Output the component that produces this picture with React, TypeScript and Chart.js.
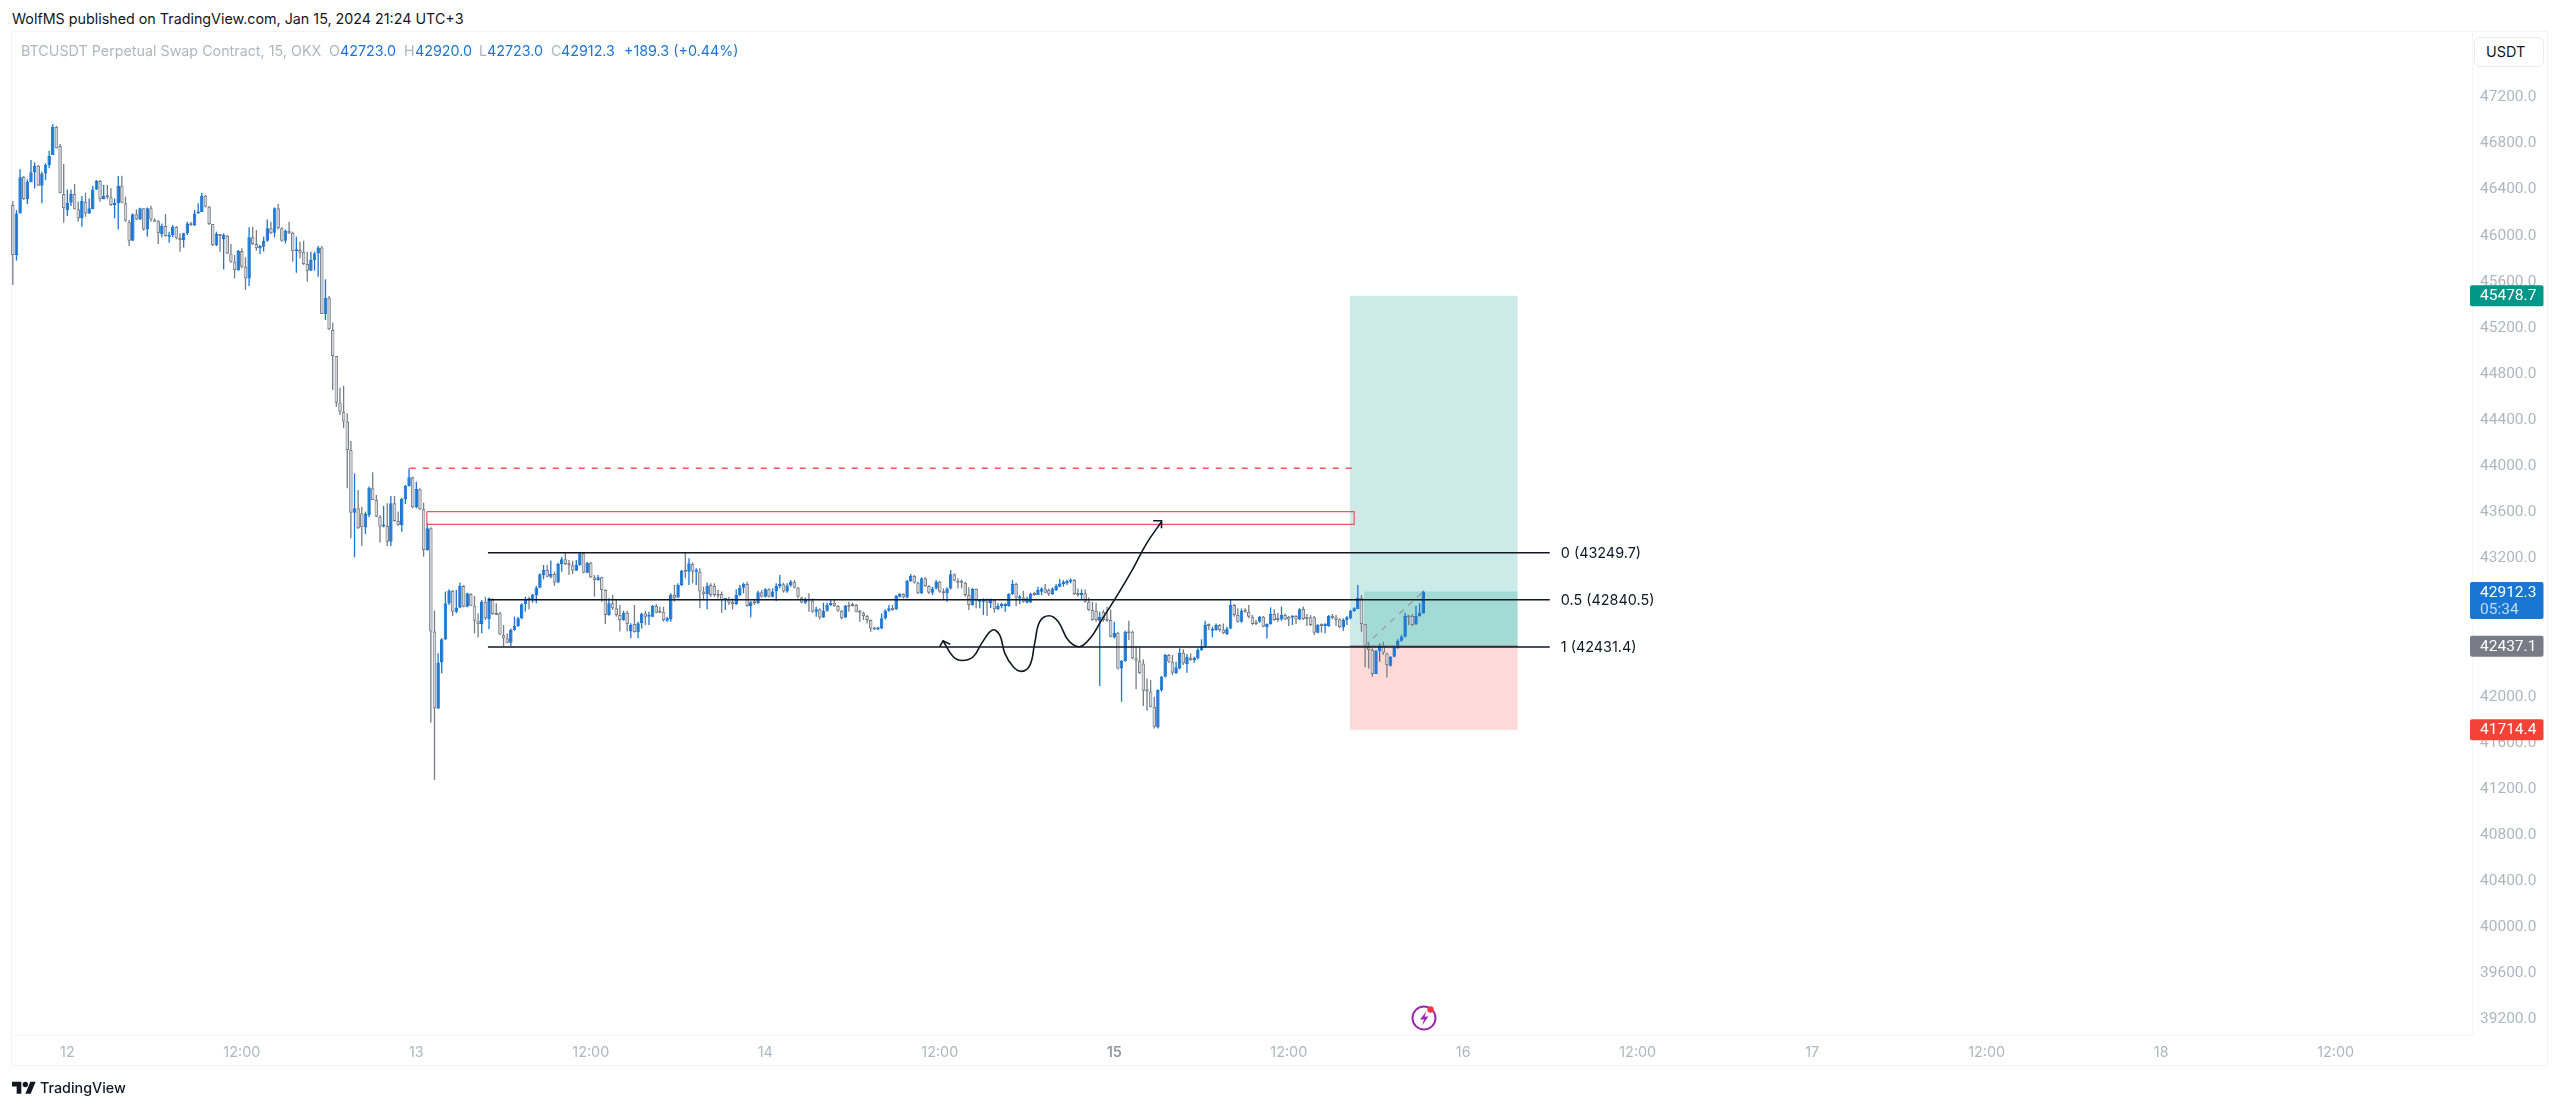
import React, { useEffect, useRef } from "react";
import { Chart, registerables } from "chart.js";

Chart.register(...registerables);

const opens = [
46266,45832,46193,46511,46315,46462,46549,46607,46433,46540,
46613,46699,46945,46777,46361,46222,46286,46361,46228,46150,
46294,46193,46228,46401,46474,46315,46344,46332,46266,46280,
46433,46280,46121,45956,46185,46141,46237,46054,46237,46141,
46124,46014,46083,45991,46005,46078,45976,45962,46020,46101,
46089,46193,46205,46347,46251,46101,45916,46014,45968,46000,
45846,45774,45702,45866,45731,45629,45985,45927,45890,45904,
45956,46063,46025,46237,46063,45956,46043,46025,45864,45875,
45861,45754,45696,45788,45846,45898,45320,45462,45181,44955,
44551,44473,44387,44141,43597,43635,43591,43470,43577,43808,
43707,43562,43476,43481,43345,43678,43525,43490,43716,43828,
43904,43643,43799,43626,43273,43461,42565,41899,42296,42498,
42810,42920,42738,42773,42961,42781,42891,42790,42660,42631,
42825,42674,42845,42718,42724,42536,42507,42469,42579,42614,
42680,42802,42854,42839,42883,42946,43056,43100,43042,43065,
42990,43152,43192,43152,43140,43094,43143,43244,43076,43163,
43036,43013,43036,42926,42709,42810,42767,42709,42666,42729,
42565,42631,42562,42637,42724,42695,42695,42787,42738,42738,
42660,42674,42883,42862,42969,43094,43085,43152,43085,43085,
42912,42891,42969,42961,42891,42891,42839,42845,42825,42805,
42883,42946,42978,42787,42819,42810,42906,42868,42932,42868,
42912,42961,42975,42912,42964,42998,42946,42862,42816,42845,
42833,42738,42758,42688,42746,42796,42816,42787,42746,42688,
42787,42796,42796,42738,42729,42700,42665,42593,42584,42593,
42680,42746,42767,42758,42868,42891,42862,43004,43047,42989,
42897,43027,42960,42903,42940,42998,42911,42897,42940,43062,
43007,42998,42989,42882,42796,42934,42824,42824,42839,42810,
42839,42758,42787,42787,42787,42891,42978,42853,42862,42816,
42819,42891,42882,42911,42940,42926,42891,42926,42955,42978,
42983,42998,43012,42891,42882,42897,42824,42752,42746,42660,
42738,42665,42665,42515,42555,42246,42310,42564,42564,42333,
42312,42289,42052,42045,41913,41734,42058,42174,42362,42304,
42203,42246,42382,42284,42341,42318,42333,42405,42434,42622,
42573,42579,42622,42584,42544,42593,42796,42709,42651,42746,
42738,42694,42651,42651,42694,42602,42631,42717,42680,42671,
42709,42694,42688,42700,42671,42761,42695,42689,42689,42556,
42623,42614,42614,42701,42689,42672,42602,42666,42680,42744,
42761,42859,42631,42434,42405,42197,42397,42440,42376,42269,
42348,42426,42486,42521,42700,42700,42628,42700,42723,
];

const closes = [
45832,46193,46506,46315,46468,46549,46604,46433,46540,46613,
46691,46945,46757,46367,46237,46286,46361,46228,46150,46300,
46193,46237,46401,46474,46315,46344,46332,46266,46280,46433,
46286,46130,45956,46185,46141,46237,46054,46237,46141,46121,
46020,46083,45997,46005,46078,45976,45962,46020,46106,46089,
46193,46208,46347,46251,46101,45916,46014,45997,46005,45846,
45774,45702,45866,45731,45629,45985,45927,45890,45910,45956,
46063,46020,46237,46063,45956,46043,46020,45864,45875,45852,
45754,45696,45788,45846,45898,45320,45462,45187,44955,44551,
44473,44387,44141,43597,43635,43461,43470,43585,43814,43707,
43562,43476,43484,43345,43678,43525,43490,43716,43828,43904,
43643,43802,43626,43273,43461,42565,41899,42296,42498,42810,
42920,42738,42773,42961,42781,42897,42790,42660,42631,42825,
42680,42854,42718,42709,42541,42507,42469,42579,42614,42680,
42802,42845,42839,42883,42946,43062,43100,43042,43065,42990,
43152,43192,43152,43140,43094,43143,43244,43076,43163,43036,
43013,43036,42926,42709,42810,42767,42709,42666,42729,42631,
42622,42562,42637,42718,42695,42701,42787,42729,42729,42666,
42680,42883,42854,42969,43094,43085,43157,43085,43094,42912,
42891,42961,42883,42883,42877,42839,42845,42816,42805,42883,
42946,42978,42787,42819,42810,42906,42868,42932,42868,42912,
42961,42975,42912,42964,42998,42946,42868,42816,42845,42833,
42738,42758,42688,42746,42796,42816,42787,42746,42683,42787,
42781,42787,42738,42729,42700,42665,42593,42584,42593,42680,
42746,42767,42752,42876,42891,42862,43004,43050,42989,42897,
43027,42960,42903,42940,42998,42911,42897,42940,43062,43007,
42989,42989,42882,42796,42934,42833,42833,42839,42816,42839,
42758,42787,42804,42796,42891,42978,42862,42868,42824,42853,
42891,42882,42926,42940,42903,42891,42940,42960,42983,42998,
43004,43007,42891,42882,42897,42824,42752,42665,42665,42694,
42665,42660,42521,42555,42246,42310,42564,42550,42333,42312,
42203,42052,42045,41913,41740,42058,42174,42362,42304,42208,
42255,42382,42289,42347,42318,42333,42405,42434,42622,42613,
42584,42622,42579,42550,42593,42796,42709,42651,42746,42738,
42694,42631,42631,42694,42608,42631,42717,42665,42665,42709,
42671,42671,42700,42671,42758,42675,42675,42623,42556,42623,
42614,42631,42701,42680,42666,42602,42666,42689,42744,42767,
42859,42631,42434,42405,42197,42397,42443,42382,42275,42348,
42426,42486,42521,42700,42689,42622,42700,42729,42912,
];

const highs = [
46300,46222,46575,46517,46488,46656,46636,46613,46555,46627,
46737,46968,46951,46795,46621,46401,46401,46448,46294,46344,
46373,46323,46430,46482,46482,46439,46439,46410,46323,46517,
46520,46338,46135,46193,46228,46242,46237,46245,46260,46150,
46135,46106,46187,46034,46092,46083,46020,46025,46121,46121,
46222,46280,46373,46352,46257,46101,46034,46014,46020,46005,
45927,45832,45875,45890,45812,46072,46078,46049,45918,45991,
46141,46121,46245,46274,46072,46054,46121,46034,45991,45947,
45956,45861,45861,45861,45910,45910,45621,45476,45245,44955,
44681,44698,44460,44219,43938,43794,43649,43606,43823,43947,
43750,43577,43655,43678,43742,43742,43606,43727,43837,43982,
43909,43866,43808,43684,43504,43470,42747,42377,42507,42912,
42932,42926,42926,42990,42969,42903,42897,42874,42724,42839,
42868,42862,42854,42810,42738,42622,42550,42593,42695,42695,
42810,42868,42868,42891,42961,43071,43143,43143,43181,43085,
43163,43215,43250,43186,43181,43186,43256,43256,43172,43172,
43056,43056,43042,42932,42854,42883,42839,42796,42747,42747,
42637,42796,42651,42729,42747,42738,42796,42805,42781,42781,
42695,42897,42969,42984,43100,43250,43201,43163,43114,43114,
42955,42990,42984,42984,42926,42912,42854,42868,42854,42932,
42969,42990,42998,42833,42839,42920,42926,42941,42941,42941,
42984,43056,42990,42984,43013,43013,42955,42868,42862,42897,
42853,42781,42767,42816,42816,42845,42845,42796,42752,42796,
42824,42816,42804,42752,42738,42709,42671,42608,42608,42723,
42758,42796,42796,42882,42897,42897,43012,43064,43056,42998,
43036,43036,42969,42955,43012,43007,42940,42949,43099,43070,
43027,43018,42998,42949,42943,42940,42845,42853,42853,42853,
42845,42810,42816,42810,42897,43012,42989,42882,42920,42868,
42903,42911,42955,42949,42978,42940,42949,42978,43021,43012,
43018,43027,43021,42940,42931,42931,42862,42824,42816,42738,
42752,42781,42758,42651,42564,42318,42573,42660,42573,42434,
42434,42324,42159,42145,42000,42064,42180,42370,42370,42362,
42304,42420,42411,42370,42376,42347,42420,42498,42660,42636,
42608,42636,42631,42636,42608,42845,42804,42767,42767,42767,
42796,42709,42665,42700,42700,42636,42775,42758,42729,42781,
42723,42700,42706,42709,42767,42782,42718,42709,42701,42631,
42637,42637,42709,42718,42709,42680,42680,42701,42753,42776,
42969,42883,42631,42478,42420,42405,42463,42478,42382,42353,
42434,42498,42536,42729,42709,42718,42787,42810,42920,
];

const lows = [
45571,45783,46193,46309,46274,46462,46410,46433,46280,46482,
46584,46699,46757,46367,46112,46170,46257,46228,46121,46078,
46164,46187,46228,46396,46294,46315,46315,46257,46150,46054,
46280,46121,45910,45956,46135,46135,46043,45991,46121,46121,
45927,45985,45991,45939,45985,45968,45861,45898,46005,46083,
46083,46193,46205,46245,46092,45910,45910,45861,45707,45840,
45765,45629,45696,45716,45528,45563,45918,45869,45840,45861,
45947,46014,45985,46054,45947,45933,46014,45774,45678,45803,
45745,45600,45696,45696,45644,45320,45268,45181,44660,44516,
44444,44330,43808,43374,43210,43455,43308,43412,43557,43707,
43557,43337,43470,43308,43308,43519,43484,43432,43672,43823,
43635,43635,43620,43215,43267,41775,41278,41894,42203,42492,
42796,42700,42724,42767,42776,42776,42787,42550,42515,42550,
42666,42585,42712,42709,42536,42440,42463,42440,42573,42608,
42672,42738,42758,42816,42810,42941,43019,43036,43027,42961,
42984,43085,43143,43056,43065,43094,43137,43071,43071,43030,
42868,43007,42825,42631,42703,42753,42695,42565,42660,42565,
42507,42556,42507,42593,42622,42622,42689,42724,42724,42651,
42651,42651,42825,42854,42961,43027,42969,42984,42969,42767,
42839,42758,42868,42868,42854,42729,42753,42796,42758,42796,
42874,42897,42781,42689,42796,42805,42862,42862,42862,42862,
42831,42941,42903,42903,42955,42941,42854,42810,42804,42738,
42729,42694,42671,42683,42738,42787,42781,42738,42671,42683,
42738,42781,42732,42651,42665,42636,42564,42579,42579,42587,
42671,42738,42746,42752,42862,42853,42853,42998,42983,42891,
42891,42955,42891,42882,42931,42903,42845,42824,42931,43001,
42940,42940,42868,42752,42790,42767,42767,42709,42700,42767,
42729,42752,42767,42738,42781,42882,42787,42804,42816,42810,
42810,42874,42882,42882,42897,42874,42882,42917,42949,42955,
42969,42983,42882,42868,42839,42816,42746,42660,42651,42093,
42651,42651,42515,42506,42237,41957,42304,42492,42324,42064,
42197,41919,41879,41908,41725,41725,42044,42168,42295,42188,
42197,42237,42275,42208,42312,42295,42324,42399,42428,42579,
42515,42573,42564,42544,42535,42587,42694,42642,42642,42729,
42680,42622,42622,42642,42602,42506,42625,42660,42651,42660,
42665,42613,42622,42631,42665,42666,42614,42614,42536,42550,
42556,42550,42608,42672,42614,42594,42573,42623,42672,42738,
42761,42564,42255,42246,42174,42197,42304,42362,42168,42261,
42342,42417,42478,42515,42622,42614,42622,42695,42723,
];

const yTickValues = [47200,46800,46400,46000,45600,45200,44800,44400,44000,43600,43200,42000,41600,41200,40800,40400,40000,39600,39200];
const timeTickSlots = [15,63,111,159,207,255,303,351,399,447,495,543,591,639];
const timeTickLabels = ["12","12:00","13","12:00","14","12:00","15","12:00","16","12:00","17","12:00","18","12:00"];

const fibPrices = [43249.7, 42840.5, 42431.4];
const fibLabels = ["0 (43249.7)", "0.5 (42840.5)", "1 (42431.4)"];
const fibSlots = [130.7, 422.8];

const liquidityPrice = 43982;
const liquiditySlots = [109.2, 369];
const zonePrices = [43606, 43496];
const zoneSlots = [113.9, 369];

const targetPrice = 45478.7;
const entryPrice = 42437.1;
const stopPrice = 41714.4;
const lastPrice = 42912.3;
const positionSlots = [367.8, 414];
const tradeSlots = [371.7, 388];

const arrowSlots = [255.9,258.7,261.2,264.2,266.5,269.5,271.5,272.9,275.2,277.5,279.8,281.1,282.5,285.1,287.6,290.3,293.5,296.7,299.5,303.6,308.2,311.9,316];
const arrowPrices = [42486,42347,42315,42347,42463,42579,42535,42376,42260,42220,42275,42463,42651,42703,42651,42492,42434,42521,42665,42868,43114,43331,43518];
const headEndSlots = [313.7,316,316];
const headEndPrices = [43527,43527,43461];
const headStartSlots = [255,255.9,257.9];
const headStartPrices = [42434,42486,42454];

const tagPrices = [targetPrice, lastPrice, entryPrice, stopPrice];
const tagColors = ["#009688", "#1976d2", "#787b86", "#f44336"];
const countdownLabel = "05:34";

const UP = "#1976d2";
const DOWN_EDGE = "#787b86";
const DOWN_FILL = "#d4d5d9";
const FONT = "Inter";
const NUM_FONT = "Roboto";
const AXIS_TEXT = "#b2b5be";
const FRAME = "#f3f5fa";

const seg = (xs: number[], ys: number[]) => xs.map((x, i) => ({ x, y: ys[i] }));
const lineSet = (data: any[], color: string, width: number, extra: any = {}) => ({
  type: "line",
  data,
  borderColor: color,
  borderWidth: width,
  pointRadius: 0,
  fill: false,
  order: 1,
  ...extra,
});
const boxSet = (slots: number[], from: number, to: number, color: string) =>
  lineSet(seg(slots, [from, from]), "rgba(0,0,0,0)", 0, {
    fill: { value: to },
    backgroundColor: color,
    order: 20,
  });

const overlayPlugin = {
  id: "overlay",
  afterDraw(chart: any) {
    const { ctx, scales } = chart;
    const y = scales.y;
    ctx.save();
    ctx.textBaseline = "middle";
    ctx.textAlign = "left";
    ctx.font = `14.4px ${FONT}`;
    ctx.fillStyle = "#131722";
    fibLabels.forEach((t, i) => {
      ctx.fillText(t, scales.x.getPixelForValue(fibSlots[1]) + 11, y.getPixelForValue(fibPrices[i]) + 1);
    });
    ctx.font = `15.5px ${NUM_FONT}`;
    const tagLeft = scales.x.right - 2;
    tagPrices.forEach((p, i) => {
      const cy = y.getPixelForValue(p);
      const isLast = p === lastPrice;
      const top = isLast ? cy - 9.5 : cy - 10.5;
      const h = isLast ? 37 : 21;
      ctx.fillStyle = tagColors[i];
      ctx.beginPath();
      ctx.roundRect(tagLeft, top, 73.5, h, 2);
      ctx.fill();
      ctx.fillStyle = "#ffffff";
      ctx.fillText(p.toFixed(1), 2480, top + 11);
      if (isLast) {
        ctx.fillStyle = "rgba(255,255,255,0.72)";
        ctx.fillText(countdownLabel, 2480, top + 28);
      }
    });
    ctx.restore();
  },
};

export default function App() {
  const ref = useRef<HTMLCanvasElement | null>(null);

  useEffect(() => {
    const isUp = closes.map((c, i) => c >= opens[i]);
    const chart = new Chart(ref.current as HTMLCanvasElement, {
      type: "bar",
      data: {
        datasets: [
          lineSet(seg(arrowSlots, arrowPrices), "#131722", 1.6, { tension: 0.4, order: 0 }),
          lineSet(seg(headEndSlots, headEndPrices), "#131722", 1.6, { order: 0 }),
          lineSet(seg(headStartSlots, headStartPrices), "#131722", 1.6, { order: 0 }),
          ...fibPrices.map((p) => lineSet(seg(fibSlots, [p, p]), "#131722", 1.5, { order: 1 })),
          lineSet(seg(positionSlots, [entryPrice, entryPrice]), "#787b86", 1.5, { order: 2 }),
          lineSet(seg(tradeSlots, [entryPrice, lastPrice]), "#9598a1", 1.2, { borderDash: [6, 6], order: 1 }),
          lineSet(seg(liquiditySlots, [liquidityPrice, liquidityPrice]), "#f7525f", 1.5, { borderDash: [6, 7], order: 1 }),
          lineSet(
            seg([zoneSlots[0], zoneSlots[1], zoneSlots[1], zoneSlots[0], zoneSlots[0]], [zonePrices[0], zonePrices[0], zonePrices[1], zonePrices[1], zonePrices[0]]),
            "#f7525f",
            1.2,
            { tension: 0.0001, order: 1 },
          ),
          {
            type: "bar",
            data: closes.map((c, i) => ({ x: i, y: [opens[i], c] })),
            barThickness: 3.5,
            grouped: false,
            minBarLength: 2,
            inflateAmount: 0,
            borderSkipped: false,
            borderWidth: 1,
            backgroundColor: isUp.map((u) => (u ? UP : DOWN_FILL)),
            borderColor: isUp.map((u) => (u ? UP : DOWN_EDGE)),
            order: 5,
          },
          {
            type: "bar",
            data: highs.map((h, i) => ({ x: i, y: [lows[i], h] })),
            barThickness: 1.3,
            grouped: false,
            inflateAmount: 0,
            borderWidth: 0,
            backgroundColor: isUp.map((u) => (u ? UP : DOWN_EDGE)),
            order: 6,
          },
          boxSet([tradeSlots[0], positionSlots[1]], lastPrice, entryPrice, "rgba(0,150,136,0.2)"),
          boxSet(positionSlots, targetPrice, entryPrice, "rgba(0,150,136,0.2)"),
          boxSet(positionSlots, stopPrice, entryPrice, "rgba(244,67,54,0.2)"),
        ] as any,
      },
      options: {
        animation: false,
        responsive: false,
        devicePixelRatio: 1,
        events: [],
        layout: { padding: { left: 11, top: 32, right: 0, bottom: 42 } },
        plugins: { legend: { display: false }, tooltip: { enabled: false } },
        scales: {
          x: {
            type: "linear",
            offset: false,
            min: -0.5,
            max: 676.5,
            grid: { display: false, drawTicks: false, offset: false },
            border: { display: true, color: FRAME },
            afterFit(s: any) {
              s.height = 31;
            },
            afterBuildTicks(s: any) {
              s.ticks = timeTickSlots.map((value) => ({ value }));
            },
            ticks: {
              autoSkip: false,
              maxRotation: 0,
              padding: 9,
              color: (c: any) => (timeTickLabels[timeTickSlots.indexOf(c.tick?.value)] === "15" ? "#9598a1" : AXIS_TEXT),
              font: (c: any) => ({
                family: FONT,
                size: 14.4,
                weight: timeTickLabels[timeTickSlots.indexOf(c.tick?.value)] === "15" ? 600 : 400,
              }),
              callback: (v: any) => timeTickLabels[timeTickSlots.indexOf(v)] ?? "",
            },
          },
          y: {
            type: "linear",
            position: "right",
            min: 39065.8,
            max: 47766.4,
            grid: { display: false, drawTicks: false },
            border: { display: true, color: FRAME },
            afterFit(s: any) {
              s.width = 88;
            },
            afterBuildTicks(s: any) {
              s.ticks = yTickValues.map((value) => ({ value }));
            },
            ticks: {
              padding: 8,
              color: AXIS_TEXT,
              font: { family: NUM_FONT, size: 15.5 },
              callback: (v: any) => Number(v).toFixed(1),
            },
          },
        },
      } as any,
      plugins: [overlayPlugin],
    } as any);
    return () => chart.destroy();
  }, []);

  const abs = (left: number, top: number, extra: any = {}) => ({
    position: "absolute" as const,
    left,
    top,
    lineHeight: "20px",
    whiteSpace: "nowrap" as const,
    fontFamily: FONT,
    ...extra,
  });
  const grey = "#b2b5be";
  const blue = "#1976d2";
  const small = 14.3;

  return (
    <div style={{ position: "fixed", inset: 0, width: 2560, height: 1108, background: "#fff", overflow: "hidden" }}>
      <div style={abs(12, 9, { fontSize: small, color: "#131722" })}>WolfMS published on TradingView.com, Jan 15, 2024 21:24 UTC+3</div>
      <div style={{ position: "absolute", left: 11, top: 31, width: 2537, height: 1035, border: "1.5px solid #f0f3fa", boxSizing: "border-box" }} />
      <canvas ref={ref} width={2560} height={1108} style={{ position: "absolute", left: 0, top: 0, display: "block" }} />
      <div style={abs(21, 41, { fontSize: small, color: grey })}>BTCUSDT Perpetual Swap Contract, 15, OKX</div>
      <div style={abs(329, 41, { fontSize: small, color: grey })}>O</div>
      <div style={abs(340, 41, { fontSize: small, color: blue })}>42723.0</div>
      <div style={abs(404, 41, { fontSize: small, color: grey })}>H</div>
      <div style={abs(415, 41, { fontSize: small, color: blue })}>42920.0</div>
      <div style={abs(479, 41, { fontSize: small, color: grey })}>L</div>
      <div style={abs(487, 41, { fontSize: small, color: blue })}>42723.0</div>
      <div style={abs(551, 41, { fontSize: small, color: grey })}>C</div>
      <div style={abs(561, 41, { fontSize: small, color: blue })}>42912.3</div>
      <div style={abs(624, 41, { fontSize: small, color: blue })}>+189.3 (+0.44%)</div>
      <div
        style={abs(2474, 37, {
          width: 70,
          height: 30,
          boxSizing: "border-box",
          border: "1px solid #e8eaf0",
          borderRadius: 6,
          background: "#fff",
          fontSize: 14.4,
          color: "#131722",
          paddingLeft: 11,
          lineHeight: "28px",
        })}
      >
        USDT
      </div>
      <svg style={{ position: "absolute", left: 1411, top: 1004 }} width="28" height="28" viewBox="0 0 28 28">
        <circle cx="13" cy="14" r="11.5" fill="#fff" stroke="#9c27b0" strokeWidth="2" />
        <path d="M15.5 7 L9 15.5 H13 L11 21.5 L17.5 12.5 H13.5 Z" fill="#9c27b0" />
        <circle cx="19.5" cy="5.5" r="3.2" fill="#f23645" />
      </svg>
      <svg style={{ position: "absolute", left: 12, top: 1079 }} width="24" height="19" viewBox="0 0 36 28">
        <path d="M14 22H7V11H0V4h14v18zM28 22h-8l7.5-18h8L28 22z" fill="#131722" />
        <circle cx="20" cy="8" r="4" fill="#131722" />
      </svg>
      <div style={abs(40, 1078, { fontSize: small, fontWeight: 500, color: "#131722" })}>TradingView</div>
    </div>
  );
}
